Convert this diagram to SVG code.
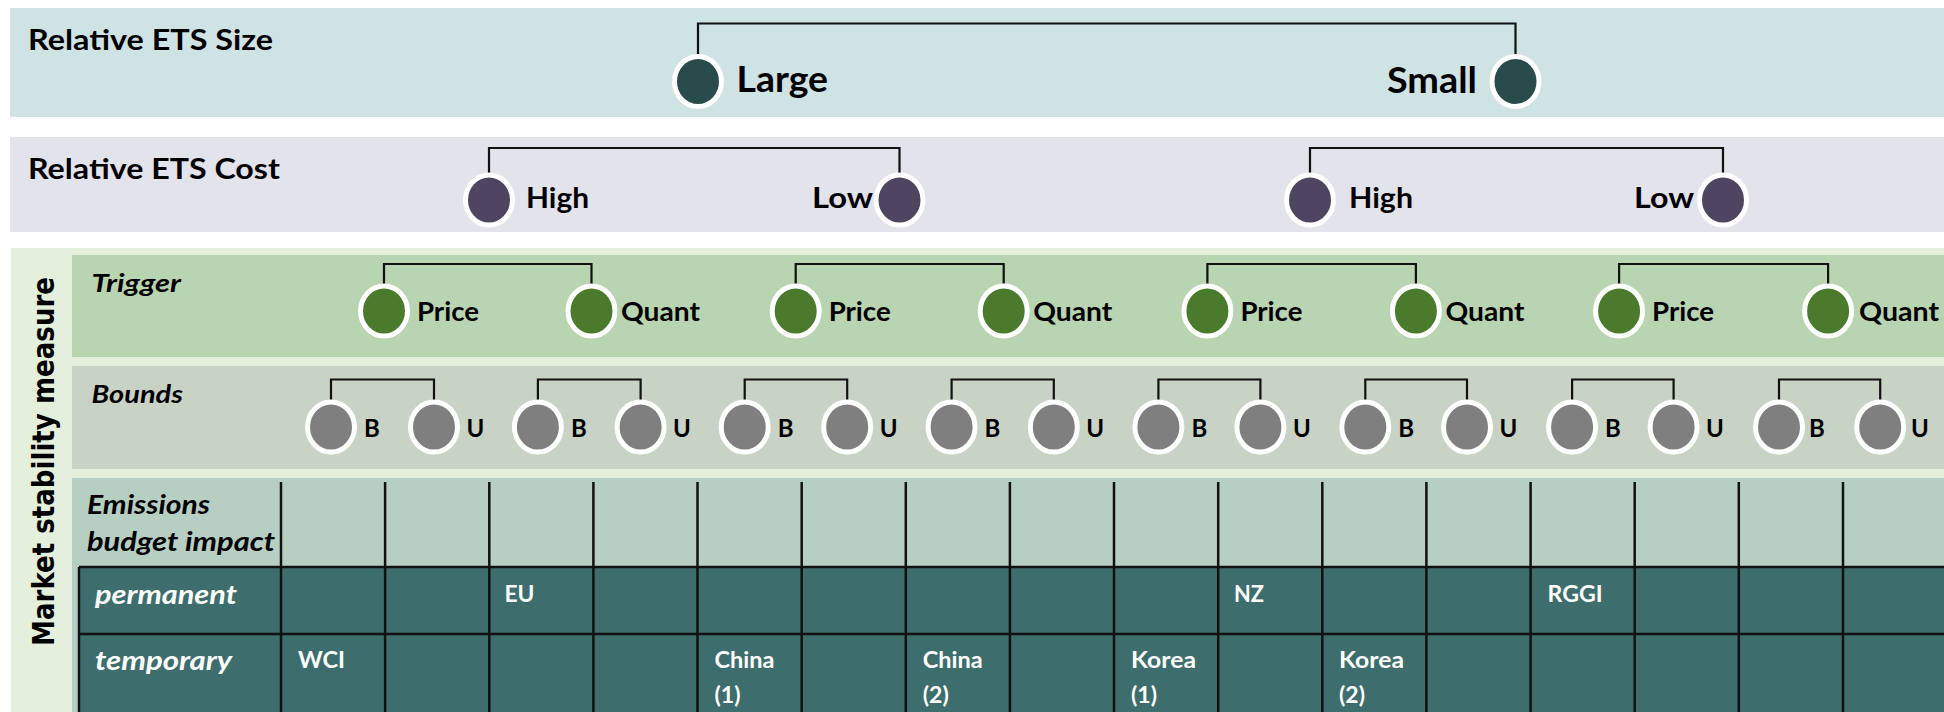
<svg xmlns="http://www.w3.org/2000/svg" width="1944" height="712" viewBox="0 0 1944 712">
  <style>
    text { font-family: Lato, "Liberation Sans", sans-serif; font-weight: 700; fill: #000; }
    .title { font-size: 28px; }
    .big { font-size: 37px; }
    .mid { font-size: 29px; }
    .trig { font-size: 27px; }
    .bnd { font-size: 24px; }
    .rowlab { font-size: 24px; font-style: italic; }
    .hdr { font-size: 26px; font-style: italic; }
    .dark-lab { font-size: 26px; font-style: italic; fill: #fff; }
    .cell { font-size: 23px; fill: #fff; }
    .side { font-family: "DejaVu Sans", Verdana, sans-serif; font-size: 31px; font-weight: 700; }
    .node ellipse { stroke: #fff; stroke-width: 5; }
    .size ellipse { fill: #2a4b4b; }
    .cost ellipse { fill: #4e4560; }
    .trigger ellipse { fill: #4a7b2c; }
    .bound ellipse { fill: #7f7f7f; }
    .bracket { fill: none; stroke: #111; stroke-width: 2.2; }
    .grid { stroke: #111; stroke-width: 2.5; fill: none; }
  </style>

  <!-- background bands -->
  <rect x="10" y="8" width="1934" height="109" fill="#cfe2e4"/>
  <rect x="10" y="137" width="1934" height="95" fill="#e3e3ec"/>
  <rect x="11" y="248" width="1933" height="464" fill="#e4f0dc"/>
  <rect x="72" y="255" width="1872" height="102" fill="#b9d4b1"/>
  <rect x="72" y="366" width="1872" height="103" fill="#c8d3c6"/>
  <rect x="72" y="478" width="1872" height="234" fill="#b7cfc3"/>
  <rect x="79" y="567" width="1865" height="145" fill="#3e6d6e"/>

  <!-- row labels -->
  <text class="title" x="28" y="50" textLength="245" lengthAdjust="spacingAndGlyphs">Relative ETS Size</text>
  <text class="title" x="28" y="179" textLength="252" lengthAdjust="spacingAndGlyphs">Relative ETS Cost</text>
  <text class="side" transform="translate(54 461.5) rotate(-90)" text-anchor="middle" textLength="369" lengthAdjust="spacingAndGlyphs">Market stability measure</text>
  <text class="rowlab" x="91.5" y="292" textLength="89.5" lengthAdjust="spacingAndGlyphs">Trigger</text>
  <text class="rowlab" x="91.5" y="403" textLength="91.5" lengthAdjust="spacingAndGlyphs">Bounds</text>

  <!-- connectors -->
  <g id="connectors">
    <path class="bracket" d="M698 56 V23.5 H1515.5 V56"/>
    <path class="bracket" d="M489 175 V148 H899.5 V175"/>
    <path class="bracket" d="M1310 175 V148 H1723 V175"/>
    <path class="bracket" d="M384 286 V264 H591.5 V286"/>
    <path class="bracket" d="M795.7 286 V264 H1003.7 V286"/>
    <path class="bracket" d="M1207.4 286 V264 H1415.9 V286"/>
    <path class="bracket" d="M1619.1 286 V264 H1828.1 V286"/>
    <path class="bracket" d="M331 401 V379.5 H434 V401"/>
    <path class="bracket" d="M537.9 401 V379.5 H640.6 V401"/>
    <path class="bracket" d="M744.7 401 V379.5 H847.2 V401"/>
    <path class="bracket" d="M951.6 401 V379.5 H1053.8 V401"/>
    <path class="bracket" d="M1158.4 401 V379.5 H1260.4 V401"/>
    <path class="bracket" d="M1365.3 401 V379.5 H1467 V401"/>
    <path class="bracket" d="M1572.1 401 V379.5 H1673.6 V401"/>
    <path class="bracket" d="M1779 401 V379.5 H1880.2 V401"/>
  </g>

  <!-- size level -->
  <g id="size-large" class="node size"><ellipse cx="698" cy="81.5" rx="23.5" ry="25"/><text class="big" x="736.5" y="92" textLength="91.5" lengthAdjust="spacingAndGlyphs">Large</text></g>
  <g id="size-small" class="node size"><ellipse cx="1515.5" cy="81.5" rx="23.5" ry="25"/><text class="big" x="1387" y="93" textLength="90" lengthAdjust="spacingAndGlyphs">Small</text></g>

  <!-- cost level -->
  <g id="cost-high-1" class="node cost"><ellipse cx="489" cy="200" rx="23.5" ry="25"/><text class="mid" x="526" y="208" textLength="63" lengthAdjust="spacingAndGlyphs">High</text></g>
  <g id="cost-low-1" class="node cost"><ellipse cx="899.5" cy="200" rx="23.5" ry="25"/><text class="mid" x="812" y="208" textLength="61" lengthAdjust="spacingAndGlyphs">Low</text></g>
  <g id="cost-high-2" class="node cost"><ellipse cx="1310" cy="200" rx="23.5" ry="25"/><text class="mid" x="1349" y="208" textLength="64" lengthAdjust="spacingAndGlyphs">High</text></g>
  <g id="cost-low-2" class="node cost"><ellipse cx="1723" cy="200" rx="23.5" ry="25"/><text class="mid" x="1634" y="208" textLength="60" lengthAdjust="spacingAndGlyphs">Low</text></g>

  <!-- trigger level -->
  <g id="trigger-price-1" class="node trigger"><ellipse cx="384" cy="311" rx="23.5" ry="25"/><text class="trig" x="417" y="321" textLength="62" lengthAdjust="spacingAndGlyphs">Price</text></g>
  <g id="trigger-quant-1" class="node trigger"><ellipse cx="591.5" cy="311" rx="23.5" ry="25"/><text class="trig" x="621" y="321" textLength="79" lengthAdjust="spacingAndGlyphs">Quant</text></g>
  <g id="trigger-price-2" class="node trigger"><ellipse cx="795.7" cy="311" rx="23.5" ry="25"/><text class="trig" x="828.7" y="321" textLength="62" lengthAdjust="spacingAndGlyphs">Price</text></g>
  <g id="trigger-quant-2" class="node trigger"><ellipse cx="1003.7" cy="311" rx="23.5" ry="25"/><text class="trig" x="1033.2" y="321" textLength="79" lengthAdjust="spacingAndGlyphs">Quant</text></g>
  <g id="trigger-price-3" class="node trigger"><ellipse cx="1207.4" cy="311" rx="23.5" ry="25"/><text class="trig" x="1240.4" y="321" textLength="62" lengthAdjust="spacingAndGlyphs">Price</text></g>
  <g id="trigger-quant-3" class="node trigger"><ellipse cx="1415.9" cy="311" rx="23.5" ry="25"/><text class="trig" x="1445.4" y="321" textLength="79" lengthAdjust="spacingAndGlyphs">Quant</text></g>
  <g id="trigger-price-4" class="node trigger"><ellipse cx="1619.1" cy="311" rx="23.5" ry="25"/><text class="trig" x="1652.1" y="321" textLength="62" lengthAdjust="spacingAndGlyphs">Price</text></g>
  <g id="trigger-quant-4" class="node trigger"><ellipse cx="1828.1" cy="311" rx="23.5" ry="25"/><text class="trig" x="1859" y="321" textLength="80" lengthAdjust="spacingAndGlyphs">Quant</text></g>

  <!-- bounds level -->
  <g id="bound-b-1" class="node bound"><ellipse cx="331" cy="427" rx="23.5" ry="25"/><text class="bnd" x="364" y="437">B</text></g>
  <g id="bound-u-1" class="node bound"><ellipse cx="434" cy="427" rx="23.5" ry="25"/><text class="bnd" x="466.5" y="437">U</text></g>
  <g id="bound-b-2" class="node bound"><ellipse cx="537.9" cy="427" rx="23.5" ry="25"/><text class="bnd" x="570.9" y="437">B</text></g>
  <g id="bound-u-2" class="node bound"><ellipse cx="640.6" cy="427" rx="23.5" ry="25"/><text class="bnd" x="673.1" y="437">U</text></g>
  <g id="bound-b-3" class="node bound"><ellipse cx="744.7" cy="427" rx="23.5" ry="25"/><text class="bnd" x="777.7" y="437">B</text></g>
  <g id="bound-u-3" class="node bound"><ellipse cx="847.2" cy="427" rx="23.5" ry="25"/><text class="bnd" x="879.7" y="437">U</text></g>
  <g id="bound-b-4" class="node bound"><ellipse cx="951.6" cy="427" rx="23.5" ry="25"/><text class="bnd" x="984.6" y="437">B</text></g>
  <g id="bound-u-4" class="node bound"><ellipse cx="1053.8" cy="427" rx="23.5" ry="25"/><text class="bnd" x="1086.3" y="437">U</text></g>
  <g id="bound-b-5" class="node bound"><ellipse cx="1158.4" cy="427" rx="23.5" ry="25"/><text class="bnd" x="1191.4" y="437">B</text></g>
  <g id="bound-u-5" class="node bound"><ellipse cx="1260.4" cy="427" rx="23.5" ry="25"/><text class="bnd" x="1292.9" y="437">U</text></g>
  <g id="bound-b-6" class="node bound"><ellipse cx="1365.3" cy="427" rx="23.5" ry="25"/><text class="bnd" x="1398.3" y="437">B</text></g>
  <g id="bound-u-6" class="node bound"><ellipse cx="1467" cy="427" rx="23.5" ry="25"/><text class="bnd" x="1499.5" y="437">U</text></g>
  <g id="bound-b-7" class="node bound"><ellipse cx="1572.1" cy="427" rx="23.5" ry="25"/><text class="bnd" x="1605.1" y="437">B</text></g>
  <g id="bound-u-7" class="node bound"><ellipse cx="1673.6" cy="427" rx="23.5" ry="25"/><text class="bnd" x="1706.1" y="437">U</text></g>
  <g id="bound-b-8" class="node bound"><ellipse cx="1779" cy="427" rx="23.5" ry="25"/><text class="bnd" x="1809" y="437">B</text></g>
  <g id="bound-u-8" class="node bound"><ellipse cx="1880.2" cy="427" rx="23.5" ry="25"/><text class="bnd" x="1911" y="437">U</text></g>

  <!-- emissions budget impact table -->
  <g id="impact-table">
    <path class="grid" d="M79 567 H1944 M79 634 H1944 M79 567 V712
      M281 482 V712 M385.1 482 V712 M489.3 482 V712 M593.4 482 V712
      M697.5 482 V712 M801.7 482 V712 M905.8 482 V712 M1009.9 482 V712
      M1114 482 V712 M1218.2 482 V712 M1322.3 482 V712 M1426.4 482 V712
      M1530.6 482 V712 M1634.7 482 V712 M1738.8 482 V712 M1843 482 V712"/>
    <text class="hdr" x="87" y="514" textLength="123" lengthAdjust="spacingAndGlyphs">Emissions</text>
    <text class="hdr" x="87" y="551" textLength="188" lengthAdjust="spacingAndGlyphs">budget impact</text>
    <text class="dark-lab" x="95" y="604" textLength="142" lengthAdjust="spacingAndGlyphs">permanent</text>
    <text class="dark-lab" x="95" y="670" textLength="137" lengthAdjust="spacingAndGlyphs">temporary</text>

    <text class="cell" x="504.5" y="602" textLength="30" lengthAdjust="spacingAndGlyphs">EU</text>
    <text class="cell" x="1234" y="602" textLength="30" lengthAdjust="spacingAndGlyphs">NZ</text>
    <text class="cell" x="1547.6" y="602" textLength="55" lengthAdjust="spacingAndGlyphs">RGGI</text>

    <text class="cell" x="298" y="668" textLength="47" lengthAdjust="spacingAndGlyphs">WCI</text>
    <text class="cell" x="714.5" y="668" textLength="60" lengthAdjust="spacingAndGlyphs">China</text>
    <text class="cell" x="714.5" y="703">(1)</text>
    <text class="cell" x="922.8" y="668" textLength="60" lengthAdjust="spacingAndGlyphs">China</text>
    <text class="cell" x="922.8" y="703">(2)</text>
    <text class="cell" x="1131" y="668" textLength="65" lengthAdjust="spacingAndGlyphs">Korea</text>
    <text class="cell" x="1131" y="703">(1)</text>
    <text class="cell" x="1339" y="668" textLength="65" lengthAdjust="spacingAndGlyphs">Korea</text>
    <text class="cell" x="1339" y="703">(2)</text>
  </g>
</svg>
